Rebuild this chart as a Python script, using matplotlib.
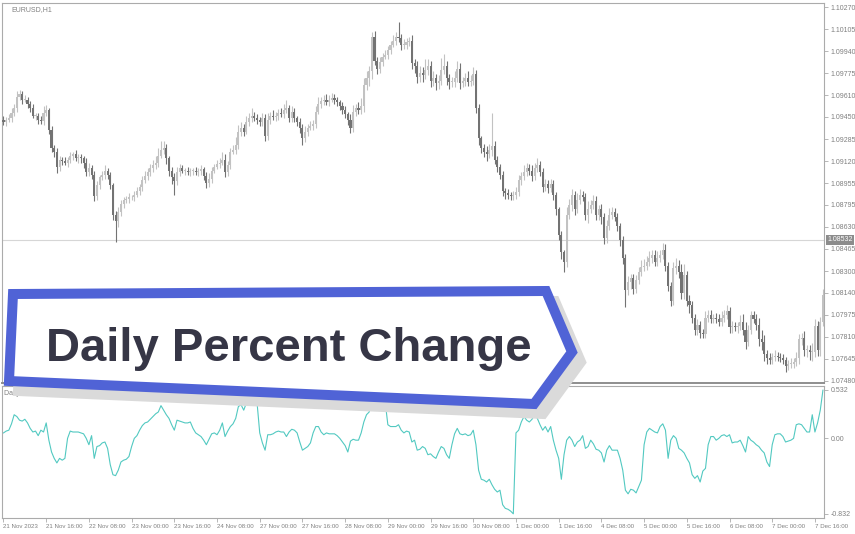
import numpy as np
import matplotlib
matplotlib.use("Agg")
import matplotlib.pyplot as plt
from matplotlib.patches import Polygon

# EURUSD H1 candles (one value per hourly bar)
first_open = 1.0943
closes = [
    1.0941, 1.0943, 1.0944, 1.0948, 1.0952, 1.0960, 1.0962, 1.0958, 1.0958, 1.0955, 1.0952, 1.0946, 1.0946, 1.0943, 1.0942, 1.0948, 1.0950, 1.0935, 1.0922, 1.0919,
    1.0908, 1.0913, 1.0912, 1.0911, 1.0913, 1.0916, 1.0917, 1.0914, 1.0915, 1.0914, 1.0911, 1.0904, 1.0907, 1.0902, 1.0886, 1.0894, 1.0900, 1.0902, 1.0905, 1.0902,
    1.0894, 1.0872, 1.0867, 1.0874, 1.0880, 1.0883, 1.0884, 1.0885, 1.0885, 1.0887, 1.0890, 1.0893, 1.0898, 1.0901, 1.0904, 1.0907, 1.0909, 1.0911, 1.0916, 1.0920,
    1.0922, 1.0914, 1.0905, 1.0900, 1.0897, 1.0904, 1.0907, 1.0905, 1.0905, 1.0904, 1.0905, 1.0905, 1.0904, 1.0905, 1.0906, 1.0901, 1.0896, 1.0899, 1.0905, 1.0908,
    1.0910, 1.0911, 1.0913, 1.0904, 1.0909, 1.0919, 1.0920, 1.0924, 1.0934, 1.0937, 1.0934, 1.0941, 1.0944, 1.0946, 1.0944, 1.0943, 1.0941, 1.0944, 1.0931, 1.0943,
    1.0946, 1.0945, 1.0946, 1.0948, 1.0947, 1.0950, 1.0952, 1.0944, 1.0949, 1.0944, 1.0941, 1.0937, 1.0929, 1.0934, 1.0937, 1.0938, 1.0940, 1.0949, 1.0955, 1.0957,
    1.0958, 1.0956, 1.0958, 1.0959, 1.0958, 1.0956, 1.0953, 1.0950, 1.0947, 1.0943, 1.0937, 1.0949, 1.0952, 1.0950, 1.0953, 1.0969, 1.0974, 1.0979, 1.1005, 1.0987,
    1.0981, 1.0986, 1.0990, 1.0991, 1.0995, 1.0999, 1.1002, 1.1005, 1.1004, 1.0999, 1.0999, 1.1001, 1.1002, 1.0985, 1.0983, 1.0975, 1.0978, 1.0976, 1.0980, 1.0983,
    1.0972, 1.0974, 1.0970, 1.0972, 1.0980, 1.0983, 1.0974, 1.0971, 1.0971, 1.0974, 1.0981, 1.0970, 1.0972, 1.0974, 1.0971, 1.0972, 1.0977, 1.0952, 1.0929, 1.0922,
    1.0919, 1.0917, 1.0920, 1.0923, 1.0913, 1.0908, 1.0902, 1.0890, 1.0888, 1.0887, 1.0886, 1.0887, 1.0889, 1.0898, 1.0901, 1.0904, 1.0907, 1.0905, 1.0901, 1.0907,
    1.0909, 1.0904, 1.0893, 1.0895, 1.0892, 1.0895, 1.0887, 1.0876, 1.0857, 1.0844, 1.0837, 1.0872, 1.0879, 1.0887, 1.0876, 1.0883, 1.0887, 1.0885, 1.0872, 1.0876,
    1.0879, 1.0882, 1.0872, 1.0876, 1.0870, 1.0855, 1.0864, 1.0872, 1.0874, 1.0870, 1.0864, 1.0853, 1.0840, 1.0816, 1.0822, 1.0825, 1.0817, 1.0823, 1.0829, 1.0833,
    1.0834, 1.0837, 1.0840, 1.0842, 1.0837, 1.0840, 1.0842, 1.0846, 1.0834, 1.0819, 1.0808, 1.0832, 1.0834, 1.0829, 1.0814, 1.0827, 1.0808, 1.0805, 1.0795, 1.0786,
    1.0790, 1.0784, 1.0783, 1.0795, 1.0797, 1.0794, 1.0795, 1.0794, 1.0792, 1.0795, 1.0797, 1.0800, 1.0788, 1.0789, 1.0788, 1.0789, 1.0792, 1.0786, 1.0777, 1.0786,
    1.0797, 1.0794, 1.0790, 1.0779, 1.0777, 1.0768, 1.0765, 1.0764, 1.0766, 1.0767, 1.0766, 1.0765, 1.0764, 1.0759, 1.0761, 1.0761, 1.0762, 1.0765, 1.0779, 1.0780,
    1.0771, 1.0771, 1.0770, 1.0770, 1.0789, 1.0771, 1.0792, 1.0812,
]
# wick length above / below the body, in pips
upper_wick = [
    3, 2, 3, 4, 3, 4, 3, 2, 3, 2, 2, 3, 2, 2, 3, 5, 4, 2, 3, 2,
    3, 3, 2, 3, 2, 3, 2, 3, 2, 2, 2, 3, 4, 2, 3, 3, 2, 3, 4, 2,
    2, 2, 3, 4, 3, 2, 2, 3, 2, 3, 3, 2, 3, 4, 3, 3, 4, 5, 6, 7,
    5, 3, 2, 3, 3, 4, 3, 2, 2, 3, 2, 2, 3, 2, 3, 2, 3, 4, 3, 2,
    3, 3, 6, 4, 3, 3, 4, 6, 5, 4, 3, 5, 4, 6, 3, 3, 2, 4, 3, 5,
    3, 4, 3, 3, 4, 5, 6, 2, 4, 3, 2, 3, 3, 4, 3, 4, 3, 4, 5, 3,
    3, 4, 3, 4, 3, 2, 2, 3, 3, 2, 4, 5, 3, 4, 6, 5, 5, 4, 3, 4,
    3, 4, 3, 4, 3, 3, 4, 3, 11, 3, 4, 3, 3, 4, 3, 4, 5, 4, 8, 5,
    4, 5, 3, 4, 9, 9, 4, 3, 4, 5, 6, 4, 3, 4, 5, 4, 5, 3, 3, 2,
    3, 4, 5, 25, 4, 3, 2, 3, 2, 3, 2, 3, 4, 4, 3, 5, 4, 3, 4, 4,
    5, 3, 3, 4, 3, 4, 3, 2, 2, 3, 2, 6, 5, 4, 3, 5, 4, 3, 3, 6,
    4, 5, 4, 3, 4, 3, 4, 5, 4, 3, 3, 2, 3, 3, 4, 3, 3, 4, 4, 5,
    5, 4, 5, 4, 4, 5, 4, 5, 4, 3, 3, 5, 6, 4, 6, 8, 3, 4, 3, 3,
    4, 3, 3, 5, 4, 4, 3, 4, 4, 5, 4, 5, 3, 4, 3, 3, 5, 6, 6, 4,
    3, 3, 4, 5, 7, 5, 3, 4, 3, 4, 3, 3, 3, 2, 3, 4, 3, 5, 4, 4,
    5, 4, 4, 6, 5, 4, 4, 5,
]
lower_wick = [
    2, 3, 2, 3, 2, 3, 2, 3, 2, 3, 3, 2, 3, 3, 2, 3, 2, 3, 3, 4,
    5, 3, 3, 2, 3, 2, 3, 2, 3, 3, 4, 3, 3, 3, 4, 3, 3, 2, 3, 3,
    3, 4, 15, 4, 3, 3, 2, 3, 2, 3, 2, 3, 3, 2, 3, 3, 3, 3, 3, 2,
    3, 4, 4, 5, 10, 3, 3, 2, 3, 2, 3, 3, 2, 3, 3, 3, 4, 3, 3, 2,
    2, 3, 2, 4, 3, 3, 2, 3, 3, 3, 3, 2, 3, 3, 2, 3, 3, 3, 4, 3,
    3, 2, 3, 3, 2, 3, 2, 3, 3, 3, 3, 4, 5, 3, 3, 2, 3, 3, 2, 3,
    3, 2, 3, 2, 3, 3, 3, 3, 3, 4, 4, 3, 3, 3, 3, 4, 4, 6, 6, 3,
    4, 3, 3, 2, 3, 3, 2, 3, 3, 4, 3, 3, 3, 4, 5, 5, 4, 5, 3, 4,
    5, 4, 5, 4, 3, 3, 5, 5, 4, 4, 3, 4, 3, 4, 3, 3, 3, 4, 5, 4,
    4, 5, 3, 4, 3, 4, 3, 4, 4, 3, 3, 3, 3, 3, 4, 3, 3, 3, 4, 3,
    3, 3, 4, 3, 4, 3, 4, 4, 4, 5, 8, 4, 3, 4, 4, 3, 3, 3, 4, 6,
    3, 3, 4, 4, 5, 5, 4, 3, 3, 3, 4, 4, 5, 13, 4, 5, 4, 3, 3, 3,
    3, 3, 3, 4, 3, 3, 3, 3, 4, 4, 4, 3, 4, 4, 5, 5, 4, 6, 4, 4,
    4, 4, 3, 3, 3, 3, 3, 3, 3, 3, 3, 3, 4, 4, 3, 4, 3, 4, 5, 3,
    3, 3, 4, 5, 6, 5, 4, 3, 3, 3, 3, 3, 3, 4, 3, 3, 3, 3, 4, 4,
    4, 5, 6, 7, 4, 4, 4, 3,
]
# Daily Percent Change indicator, per bar
pct_change = [
    0.06, 0.08, 0.09, 0.16, 0.26, 0.24, 0.20, 0.19, 0.21, 0.17, 0.11, 0.07, 0.08, 0.03, 0.09, 0.07, 0.17, -0.02, -0.15, -0.22,
    -0.27, -0.22, -0.24, -0.22, 0.00, 0.08, 0.07, 0.07, 0.07, 0.06, 0.05, 0.00, -0.07, 0.03, -0.22, -0.09, -0.08, -0.05, -0.04, -0.11,
    -0.29, -0.40, -0.41, -0.35, -0.26, -0.24, -0.23, -0.20, -0.09, 0.00, 0.03, 0.09, 0.14, 0.17, 0.18, 0.21, 0.24, 0.27, 0.29, 0.36,
    0.31, 0.26, 0.22, 0.15, 0.09, 0.20, 0.19, 0.18, 0.17, 0.17, 0.18, 0.11, 0.06, 0.04, 0.02, -0.02, -0.07, -0.01, 0.05, 0.06,
    0.04, 0.09, 0.17, 0.02, 0.08, 0.13, 0.16, 0.22, 0.35, 0.37, 0.31, 0.39, 0.42, 0.46, 0.44, 0.39, 0.06, -0.05, -0.13, 0.04,
    0.04, 0.05, 0.07, 0.08, 0.07, 0.07, 0.02, 0.07, 0.10, 0.09, 0.06, -0.04, -0.13, -0.11, -0.09, -0.05, 0.06, 0.13, 0.13, 0.07,
    0.04, 0.06, 0.05, 0.05, 0.05, 0.03, 0.00, -0.04, -0.08, -0.15, -0.03, -0.01, -0.02, -0.02, 0.06, 0.18, 0.26, 0.29, 0.44, 0.37,
    0.31, 0.36, 0.39, 0.40, 0.15, 0.13, 0.13, 0.13, 0.15, 0.09, 0.06, 0.08, 0.07, -0.04, -0.02, -0.13, -0.12, -0.09, -0.11, -0.18,
    -0.17, -0.20, -0.22, -0.15, -0.09, -0.11, -0.18, -0.22, -0.07, 0.05, 0.11, 0.05, 0.04, 0.05, 0.03, 0.04, 0.09, -0.07, -0.35, -0.45,
    -0.46, -0.48, -0.45, -0.51, -0.56, -0.59, -0.57, -0.73, -0.77, -0.78, -0.80, -0.83, 0.06, 0.09, 0.18, 0.24, 0.20, 0.18, 0.21, 0.26,
    0.22, 0.15, 0.09, 0.13, 0.07, 0.13, -0.02, -0.13, -0.22, -0.45, -0.18, -0.02, 0.02, -0.02, -0.09, -0.04, -0.02, 0.03, -0.11, -0.09,
    -0.02, -0.06, -0.12, -0.13, -0.16, -0.26, -0.13, -0.08, -0.13, -0.13, -0.13, -0.22, -0.35, -0.57, -0.61, -0.56, -0.57, -0.60, -0.53, -0.46,
    -0.07, 0.07, 0.11, 0.09, 0.07, 0.06, 0.13, 0.16, 0.09, -0.22, -0.02, 0.03, 0.00, -0.11, -0.13, -0.16, -0.22, -0.27, -0.40, -0.44,
    -0.41, -0.48, -0.36, -0.33, -0.07, 0.02, 0.02, -0.02, 0.00, 0.03, 0.04, 0.02, 0.04, -0.05, -0.04, -0.04, -0.02, -0.08, -0.15, 0.02,
    -0.02, -0.04, -0.07, -0.09, -0.13, -0.16, -0.26, -0.31, -0.07, 0.04, 0.05, 0.05, 0.02, -0.04, -0.03, -0.02, 0.00, 0.15, 0.16, 0.15,
    0.11, 0.07, 0.07, 0.26, 0.07, 0.17, 0.31, 0.53,
]
# time axis labels, one every 16 bars
time_labels = ["21 Nov 2023", "21 Nov 16:00", "22 Nov 08:00", "23 Nov 00:00", "23 Nov 16:00",
               "24 Nov 08:00", "27 Nov 00:00", "27 Nov 16:00", "28 Nov 08:00", "29 Nov 00:00",
               "29 Nov 16:00", "30 Nov 08:00", "1 Dec 00:00", "1 Dec 16:00", "4 Dec 08:00",
               "5 Dec 00:00", "5 Dec 16:00", "6 Dec 08:00", "7 Dec 00:00", "7 Dec 16:00"]
price_ticks = [1.10270, 1.10105, 1.09940, 1.09775, 1.09610, 1.09450, 1.09285, 1.09120, 1.08955,
               1.08795, 1.08630, 1.08465, 1.08300, 1.08140, 1.07975, 1.07810, 1.07645, 1.07480]
level_line = 1.08532
ind_ticks = [0.532, 0.0, -0.832]
ind_tick_labels = ["0.532", "0.00", "-0.832"]

assert len(closes) == len(upper_wick) == len(lower_wick) == len(pct_change)

W, H = 855, 534
GREY = "#ababab"
TXT = "#808080"
BULL = "#c2c2c2"
BEAR = "#737373"


def box(left, top, right, bottom):
    # pixel box -> figure fraction
    return [left / W, 1 - bottom / H, (right - left) / W, (bottom - top) / H]


plt.rcParams["font.family"] = ["Liberation Sans", "DejaVu Sans"]
fig = plt.figure(figsize=(W / 100, H / 100), dpi=100)
ax = fig.add_axes(box(2, 3, 824, 383))
ax2 = fig.add_axes(box(2, 386, 824, 518))

n = len(closes)
idx = np.arange(n)
c = np.array(closes)
o = np.r_[first_open, c[:-1]]
hi = np.maximum(o, c) + np.array(upper_wick) * 1e-4
lo = np.minimum(o, c) - np.array(lower_wick) * 1e-4
col = np.where(c >= o, BULL, BEAR)

# 1. price pane
ax.axhline(level_line, color="#d6d6d6", lw=0.8, zorder=1)
ax.vlines(idx, lo, hi, colors=col, lw=0.8, zorder=2)
ax.bar(idx, np.maximum(np.abs(c - o), 0.00005), bottom=np.minimum(o, c),
       width=0.78, color=col, lw=0, zorder=3)
ax.set_xlim(-0.56, 307.4)
ax.set_ylim(1.07465, 1.10300)
ax.yaxis.tick_right()
ax.set_yticks(price_ticks, [f"{v:.5f}" for v in price_ticks])
ax.tick_params(axis="y", length=3, width=0.6, color=GREY, labelsize=5, labelcolor=TXT, pad=1.5)
ax.tick_params(axis="x", bottom=False, labelbottom=False)
for s in ax.spines.values():
    s.set_color(GREY)
    s.set_linewidth(0.8)
ax.spines["bottom"].set_color("#8e8e8e")
ax.spines["bottom"].set_linewidth(1.4)
ax.text(0.012, 0.992, "EURUSD,H1", transform=ax.transAxes, fontsize=5, color=TXT, va="top")
ax.annotate(f"{level_line:.5f}", xy=(1, level_line), xycoords=("axes fraction", "data"),
            xytext=(2.2, 0), textcoords="offset points", va="center", ha="left",
            fontsize=5, color="white",
            bbox=dict(boxstyle="square,pad=0.18", fc="#8c8c8c", ec="none"))

# 2. indicator pane
ax2.plot(idx, pct_change, color="#52c9c1", lw=0.8)
ax2.set_xlim(-0.56, 307.4)
ax2.set_ylim(-0.876, 0.576)
ax2.yaxis.tick_right()
ax2.set_yticks(ind_ticks, ind_tick_labels)
ax2.tick_params(axis="y", length=3, width=0.6, color=GREY, labelsize=5, labelcolor=TXT, pad=1.5)
ax2.set_xticks(np.arange(len(time_labels)) * 16, time_labels, ha="left")
ax2.tick_params(axis="x", length=3, width=0.6, color=GREY, labelsize=4.4, labelcolor=TXT, pad=1.5)
for s in ax2.spines.values():
    s.set_color(GREY)
    s.set_linewidth(0.8)
ax2.text(0.003, 0.97, "Daily Percent Change 0.532", transform=ax2.transAxes,
         fontsize=5, color=TXT, va="top")

# 3. banner overlay (pixel coords)
ov = fig.add_axes([0, 0, 1, 1], zorder=5)
ov.set_xlim(0, W)
ov.set_ylim(H, 0)
ov.axis("off")
banner = np.array([[13, 294], [546, 291], [572, 352], [534, 404], [9, 381]])
ov.add_patch(Polygon(banner + [9, 10], closed=True, fc="#dadada", ec="#dadada",
                     lw=7.2, joinstyle="miter"))
ov.add_patch(Polygon(banner, closed=True, fc="white", ec="#5063d6", lw=7.2, joinstyle="miter"))
ov.text(289, 361, "Daily Percent Change", fontsize=34, fontweight="bold",
        color="#363646", ha="center", va="baseline")

fig.savefig("out.png", dpi=100)
